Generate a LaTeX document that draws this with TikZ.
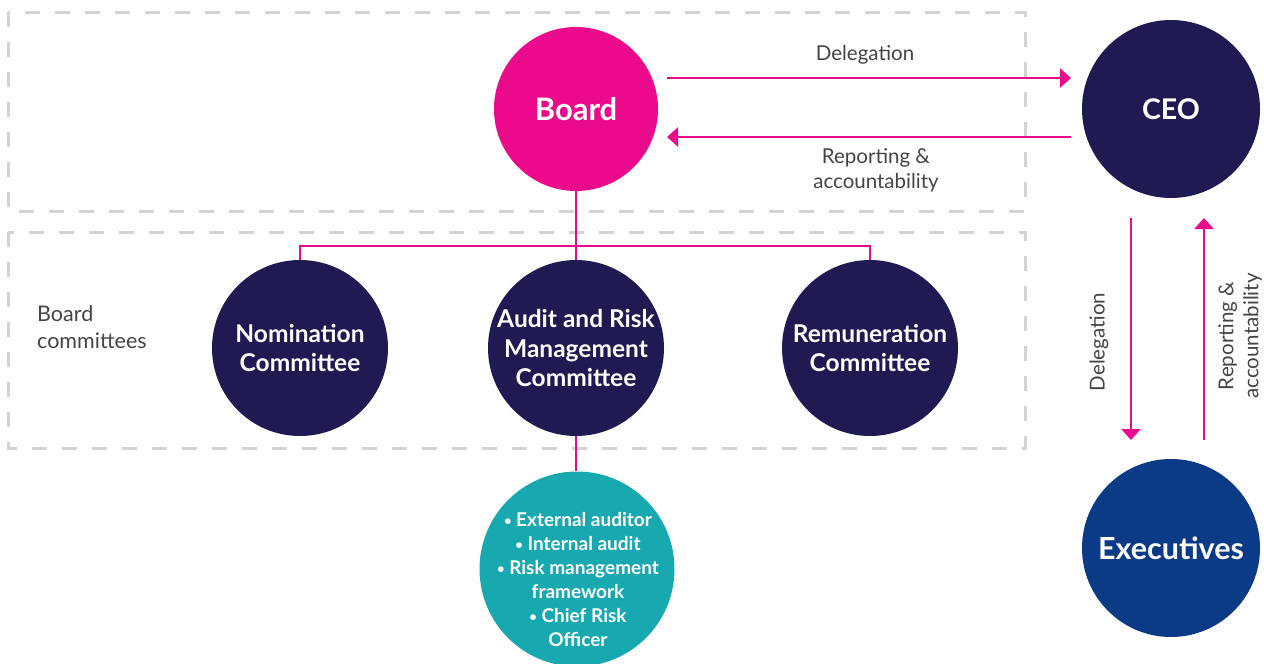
\documentclass[tikz,border=0pt]{standalone}
\usepackage{fontspec}
\setmainfont{Lato}
\usetikzlibrary{arrows.meta}
\definecolor{mag}{HTML}{EC0A8C}
\definecolor{navy}{HTML}{1F1B52}
\definecolor{exec}{HTML}{0B3A86}
\definecolor{teal}{HTML}{18A8B0}
\definecolor{dash}{HTML}{D3D3D5}
\definecolor{lbl}{HTML}{444444}
\newcommand{\bul}{{\fontsize{13}{13}\selectfont\raisebox{0.12em}{•}}}
\tikzset{
  circ/.style={circle,inner sep=0pt,text=white,align=center,font=\bfseries},
  ctext/.style={text=white,align=center,inner sep=0pt},
  dbox/.style={draw=dash,line width=3pt,dash pattern=on 15pt off 15pt},
  conn/.style={draw=mag,line width=2.5pt},
  arr/.style={conn,-{Triangle[length=11pt,width=19pt]}},
  lab/.style={text=lbl,align=center,font=\fontsize{20.5}{25}\selectfont,inner sep=0pt}
}
\begin{document}
\begin{tikzpicture}[x=1pt,y=-1pt]
\useasboundingbox (0,0) rectangle (1264,664);
\draw[dbox] (8,12) rectangle (1025,211);
\draw[dbox] (8,232) rectangle (1025,448);
% circles
\node[circ,fill=mag,minimum size=164pt,font=\bfseries\fontsize{31}{34}\selectfont] (board) at (576,109) {Board};
\node[circ,fill=navy,minimum size=178pt,font=\bfseries\fontsize{28.5}{32}\selectfont] (ceo) at (1171,109) {CEO};
\node[circ,fill=exec,minimum size=178pt,font=\bfseries\fontsize{30.5}{34}\selectfont] (exe) at (1171,548) {Executives};
\node[circ,fill=navy,minimum size=176pt] (nom) at (300,348) {};
\node[ctext,font=\bfseries\fontsize{24.5}{29.5}\selectfont] (nomt) at (nom) {Nomination\\Committee};
\node[circ,fill=navy,minimum size=176pt] (aud) at (576,348) {};
\node[ctext,font=\bfseries\fontsize{24.5}{29.5}\selectfont] (audt) at (576,348) {Audit and Risk\\Management\\Committee};
\node[circ,fill=navy,minimum size=176pt] (rem) at (870,348) {};
\node[ctext,font=\bfseries\fontsize{24.5}{29.5}\selectfont] (remt) at (rem) {Remuneration\\Committee};
\node[circ,fill=teal,minimum size=195pt] (tea) at (577,569) {};
\node[ctext,font=\bfseries\fontsize{19}{24}\selectfont] (teat) at (578,580) {\bul\ External auditor\\\bul\ Internal audit\\\bul\ Risk management\\framework\\\bul\ Chief Risk\\Officer};
% horizontal arrows
\coordinate (d1) at (667,78); \coordinate (d2) at (1071,78);
\coordinate (r1) at (1071,137); \coordinate (r2) at (667,137);
\draw[arr] (d1) -- (d2);
\draw[arr] (r1) -- (r2);
\node[lab] (ldel) at (865,55) {Delegation};
\node[lab] (lrep) at (876,170) {Reporting \&\\accountability};
% vertical arrows
\coordinate (v1) at (1131,218); \coordinate (v2) at (1131,440);
\coordinate (u1) at (1204,440); \coordinate (u2) at (1204,218);
\draw[arr] (v1) -- (v2);
\draw[arr] (u1) -- (u2);
\node[lab,rotate=90] (vdel) at (1099,342) {Delegation};
\node[lab,rotate=90] (vrep) at (1240,336) {Reporting \&\\accountability};
% tree
\coordinate (j) at (576,246);
\draw[conn] (board.south) -- (aud.north);
\draw[conn] (nom.north) -- (nom.north |- j) -- (rem.north |- j) -- (rem.north);
\draw[conn] (aud.south) -- (aud.south |- tea.north);
\node[lab,align=left,anchor=west,font=\fontsize{21.5}{27}\selectfont] (bc) at (37,327) {Board\\committees};
\end{tikzpicture}
\end{document}
